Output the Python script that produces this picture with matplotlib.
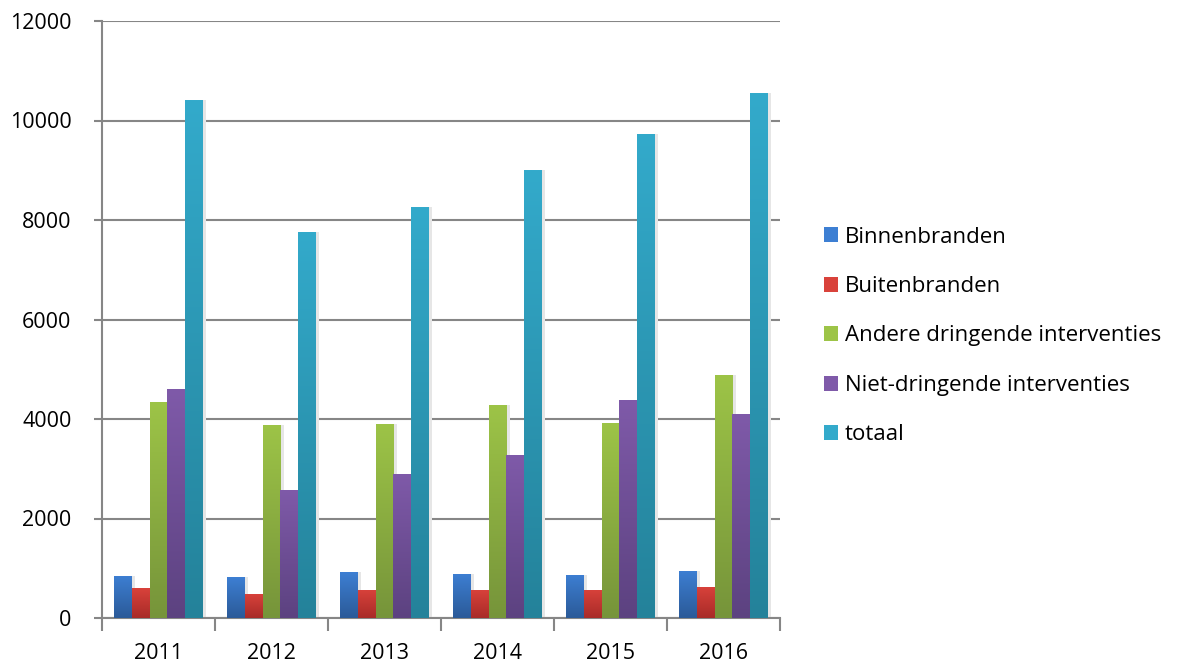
import numpy as np
import matplotlib.pyplot as plt
from matplotlib.patches import Patch
from matplotlib.colors import LinearSegmentedColormap

years = ["2011", "2012", "2013", "2014", "2015", "2016"]
binnenbranden = [850, 820, 920, 885, 865, 945]
buitenbranden = [600, 485, 565, 565, 565, 625]
andere_dringend = [4335, 3880, 3900, 4280, 3925, 4885]
niet_dringend = [4600, 2580, 2895, 3275, 4380, 4100]
totaal = [10410, 7760, 8260, 9005, 9730, 10550]

labels = ["Binnenbranden", "Buitenbranden", "Andere dringende interventies",
          "Niet-dringende interventies", "totaal"]
series = [binnenbranden, buitenbranden, andere_dringend, niet_dringend, totaal]
# (top colour, bottom colour) for the Excel-like gradient
colours = [("#3d7fd3", "#2b5a98"), ("#d9423b", "#a82b28"), ("#9dc447", "#76943a"),
           ("#7f5aa9", "#5c4280"), ("#33aacb", "#24829a")]

plt.rcParams['font.family'] = ['Open Sans', 'DejaVu Sans']

fig = plt.figure(figsize=(11.79, 6.63), dpi=100)
ax = fig.add_axes([102 / 1179, 45 / 663, 678 / 1179, 597 / 663])

x = np.arange(len(years))
w = 0.157
grad = np.linspace(1, 0, 256).reshape(-1, 1)
for k, (vals, (c_top, c_bot)) in enumerate(zip(series, colours)):
    cmap = LinearSegmentedColormap.from_list("g%d" % k, [c_bot, c_top])
    bars = ax.bar(x + (k - 2) * w, vals, width=w, color=c_top, zorder=3,
                  linewidth=0)
    for b in bars:
        x0, y0 = b.get_x(), b.get_y()
        im = ax.imshow(grad, cmap=cmap, aspect='auto', zorder=4,
                       extent=(x0, x0 + b.get_width(), y0, y0 + b.get_height()),
                       origin='upper')
        im.set_clip_path(b)
        # soft shadow on the right
        ax.bar(x0 + b.get_width(), b.get_height(), width=0.03,
               align='edge', color="#e6e6e6", zorder=2, linewidth=0)

ax.set_xlim(-0.5, len(years) - 0.5)
ax.set_ylim(0, 12000)
ax.set_yticks(np.arange(0, 12001, 2000))
ax.set_xticks(x)
ax.set_xticklabels(years)
ax.set_xticks(np.arange(-0.5, len(years)), minor=True)

grid_c = "#868686"
ax.yaxis.grid(True, color=grid_c, linewidth=1.5, zorder=0)
ax.set_axisbelow(True)
for s in ["top", "right"]:
    ax.spines[s].set_visible(False)
for s in ["left", "bottom"]:
    ax.spines[s].set_color(grid_c)
    ax.spines[s].set_linewidth(1.5)

ax.tick_params(axis='x', which='major', length=0, labelsize=15.5, pad=18)
ax.tick_params(axis='x', which='minor', length=9, width=1.5, color=grid_c)
ax.tick_params(axis='y', length=6, width=1.5, color=grid_c, labelsize=15.5, pad=16)

handles = [Patch(facecolor=c[0], edgecolor='none') for c in colours]
fig.legend(handles, labels, loc='center left', bbox_to_anchor=(804 / 1179, 327 / 663),
           frameon=False, fontsize=16, handlelength=0.65, handleheight=0.65,
           handletextpad=0.3, labelspacing=1.28)

fig.savefig("out.png", dpi=100)
